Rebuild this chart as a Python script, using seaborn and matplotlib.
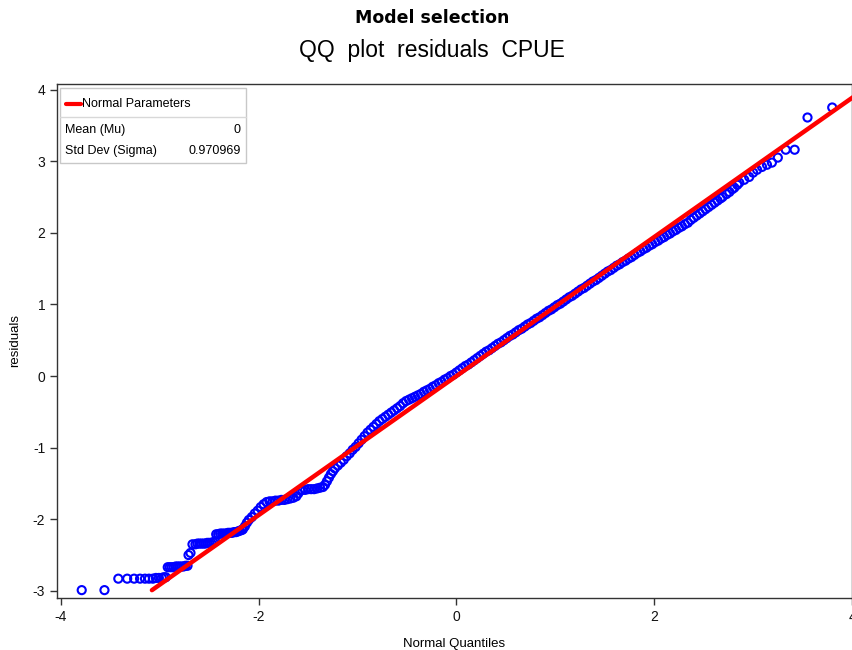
import matplotlib
matplotlib.use("Agg")
import matplotlib.pyplot as plt
import seaborn as sns
import pandas as pd
from matplotlib.patches import Rectangle
from matplotlib.lines import Line2D

# normal parameters of the fitted reference line
mu = 0.0
sigma = 0.970969
line_x = [-3.08, 4.2]

# QQ points: normal quantile, residual
qx = [-3.79, -3.56,
      -3.42, -3.33, -3.26, -3.20, -3.15, -3.11, -3.07, -3.04, -3.01, -2.98, -2.96, -2.94,
      -2.92, -2.90, -2.88, -2.86, -2.84, -2.82, -2.80, -2.78, -2.76, -2.74, -2.72,
      -2.71, -2.69,
      -2.67, -2.64, -2.62, -2.60, -2.58, -2.56, -2.54, -2.52, -2.50, -2.48, -2.46, -2.44,
      -2.43, -2.41, -2.39, -2.37, -2.35, -2.33, -2.31, -2.29, -2.27, -2.25, -2.23, -2.21, -2.19, -2.17, -2.16,
      -2.14, -2.12, -2.10, -2.07, -2.04, -2.01, -1.98, -1.95, -1.92,
      -1.89, -1.86, -1.83, -1.80, -1.77, -1.74, -1.71, -1.68, -1.65, -1.62,
      -1.60, -1.58,
      -1.56, -1.53, -1.50, -1.47, -1.44, -1.41, -1.38, -1.35,
      -1.33, -1.31, -1.29, -1.27, -1.25, -1.23, -1.20, -1.17, -1.14, -1.11, -1.08, -1.05,
      -1.02, -0.99, -0.96, -0.93, -0.90, -0.87, -0.84, -0.81, -0.78, -0.75, -0.72, -0.69,
      -0.66, -0.63, -0.60, -0.57, -0.54, -0.51, -0.48, -0.45, -0.42, -0.39, -0.36, -0.33,
      -0.30, -0.27, -0.24, -0.21, -0.18, -0.15, -0.12, -0.09, -0.06, -0.03, 0.00,
      0.03, 0.06, 0.09, 0.12, 0.15, 0.18, 0.21, 0.24, 0.27, 0.30, 0.33, 0.36, 0.39, 0.42,
      0.45, 0.48, 0.51, 0.54, 0.57, 0.60, 0.63, 0.66, 0.69, 0.72, 0.75, 0.78, 0.81, 0.84,
      0.87, 0.90, 0.93, 0.96, 0.99, 1.02, 1.05, 1.08, 1.11, 1.14, 1.17, 1.20, 1.23, 1.26,
      1.29, 1.32, 1.35, 1.38, 1.41, 1.44, 1.47, 1.50,
      1.53, 1.56, 1.59, 1.62, 1.65, 1.68, 1.71, 1.74, 1.77, 1.80, 1.83, 1.86, 1.89, 1.92,
      1.95, 1.98, 2.01, 2.04, 2.07, 2.10, 2.13, 2.16, 2.19, 2.22, 2.25, 2.28, 2.31, 2.34,
      2.37, 2.40, 2.43, 2.46, 2.49, 2.52, 2.55, 2.58, 2.61, 2.64, 2.67,
      2.69, 2.73, 2.76, 2.79, 2.81, 2.84, 2.86, 2.91, 2.96, 3.00, 3.04, 3.09, 3.14, 3.19,
      3.25, 3.33, 3.42, 3.55, 3.80]
qy = [-2.99, -2.99,
      -2.83, -2.83, -2.83, -2.83, -2.83, -2.83, -2.83, -2.82, -2.82, -2.82, -2.81, -2.81,
      -2.67, -2.67, -2.67, -2.67, -2.66, -2.66, -2.66, -2.66, -2.66, -2.65, -2.65,
      -2.50, -2.47,
      -2.35, -2.35, -2.34, -2.34, -2.34, -2.34, -2.34, -2.33, -2.33, -2.33, -2.32, -2.31,
      -2.21, -2.21, -2.20, -2.20, -2.20, -2.20, -2.19, -2.19, -2.19, -2.18, -2.18, -2.17, -2.16, -2.15, -2.14,
      -2.10, -2.05, -2.01, -1.97, -1.92, -1.88, -1.83, -1.79, -1.76,
      -1.75, -1.75, -1.74, -1.74, -1.73, -1.73, -1.72, -1.71, -1.70, -1.68,
      -1.64, -1.60,
      -1.59, -1.59, -1.58, -1.58, -1.58, -1.57, -1.56, -1.55,
      -1.52, -1.47, -1.42, -1.37, -1.33, -1.29, -1.25, -1.21, -1.17, -1.12, -1.08, -1.03,
      -0.99, -0.94, -0.89, -0.84, -0.79, -0.75, -0.71, -0.67, -0.63, -0.60, -0.57, -0.54,
      -0.51, -0.48, -0.45, -0.42, -0.38, -0.35, -0.33, -0.31, -0.29, -0.27, -0.25, -0.22,
      -0.20, -0.18, -0.15, -0.13, -0.10, -0.08, -0.05, -0.03, 0.00, 0.02, 0.05,
      0.08, 0.11, 0.14, 0.16, 0.19, 0.22, 0.25, 0.28, 0.31, 0.34, 0.36, 0.39, 0.42, 0.45,
      0.47, 0.50, 0.53, 0.56, 0.58, 0.61, 0.64, 0.66, 0.69, 0.72, 0.74, 0.77, 0.80, 0.82,
      0.85, 0.88, 0.91, 0.93, 0.96, 0.99, 1.01, 1.04, 1.07, 1.10, 1.12, 1.15, 1.18, 1.21,
      1.23, 1.26, 1.29, 1.32, 1.34, 1.37, 1.40, 1.43,
      1.46, 1.48, 1.51, 1.54, 1.56, 1.59, 1.61, 1.64, 1.66, 1.69, 1.72, 1.74, 1.77, 1.79,
      1.82, 1.84, 1.87, 1.89, 1.92, 1.94, 1.97, 1.99, 2.02, 2.04, 2.07, 2.09, 2.12, 2.14,
      2.18, 2.21, 2.24, 2.27, 2.30, 2.33, 2.36, 2.39, 2.42, 2.45, 2.48,
      2.50, 2.54, 2.57, 2.61, 2.63, 2.67, 2.70, 2.74, 2.78, 2.84, 2.88, 2.92, 2.95, 2.98,
      3.05, 3.16, 3.16, 3.61, 3.75]

x_ticks = [-4, -2, 0, 2, 4]
y_ticks = [-3, -2, -1, 0, 1, 2, 3, 4]

sns.set_style("ticks")
plt.rcParams['font.family'] = ['Liberation Sans', 'DejaVu Sans']
plt.rcParams['axes.unicode_minus'] = False
plt.rcParams['text.color'] = 'black'
plt.rcParams['axes.labelcolor'] = 'black'

df = pd.DataFrame({'quantile': qx, 'residual': qy})
line_df = pd.DataFrame({'x': line_x, 'y': [mu + sigma * v for v in line_x]})

fig = plt.figure(figsize=(8.52, 6.5), dpi=100)
ax = fig.add_axes([0.0669, 0.08, 0.9331, 0.791])

sns.scatterplot(data=df, x='quantile', y='residual', ax=ax, marker='o', s=34,
                facecolors='none', edgecolors='#0000ff', linewidth=1.5, zorder=2)
sns.lineplot(data=line_df, x='x', y='y', ax=ax, color='#ff0000', linewidth=3.2,
             zorder=3)

ax.set_xlim(-4.04, 4.0)
ax.set_ylim(-3.1, 4.08)
ax.set_xticks(x_ticks)
ax.set_yticks(y_ticks)
ax.tick_params(direction='out', length=5, width=1, colors='#333333',
               labelsize=10, labelcolor='#111111')
for s in ax.spines.values():
    s.set_color('#333333')
    s.set_linewidth(1)
ax.set_xlabel('Normal Quantiles', fontsize=9.5, labelpad=10)
ax.set_ylabel('residuals', fontsize=9.5, labelpad=8)

# inset parameter box
ax.add_patch(Rectangle((0.004, 0.846), 0.234, 0.146, transform=ax.transAxes,
                       facecolor='white', edgecolor='#c8c8c8', linewidth=1, zorder=4))
ax.add_line(Line2D([0.004, 0.238], [0.936, 0.936], transform=ax.transAxes,
                   color='#d8d8d8', linewidth=1, zorder=5))
ax.add_line(Line2D([0.011, 0.030], [0.961, 0.961], transform=ax.transAxes,
                   color='#ff0000', linewidth=3, zorder=5))
ax.text(0.032, 0.961, 'Normal Parameters', transform=ax.transAxes, fontsize=9,
        va='center', ha='left', zorder=6)
ax.text(0.010, 0.911, 'Mean (Mu)', transform=ax.transAxes, fontsize=9,
        va='center', ha='left', zorder=6)
ax.text(0.231, 0.911, f'{mu:g}', transform=ax.transAxes, fontsize=9,
        va='center', ha='right', zorder=6)
ax.text(0.010, 0.870, 'Std Dev (Sigma)', transform=ax.transAxes, fontsize=9,
        va='center', ha='left', zorder=6)
ax.text(0.231, 0.870, f'{sigma}', transform=ax.transAxes, fontsize=9,
        va='center', ha='right', zorder=6)

fig.text(0.507, 0.972, 'Model selection', ha='center', va='center', fontsize=12.5,
         fontweight='bold', family=['DejaVu Sans'])
fig.text(0.507, 0.922, 'QQ  plot  residuals  CPUE', ha='center', va='center',
         fontsize=16.5)

fig.savefig('out.png', dpi=100)
